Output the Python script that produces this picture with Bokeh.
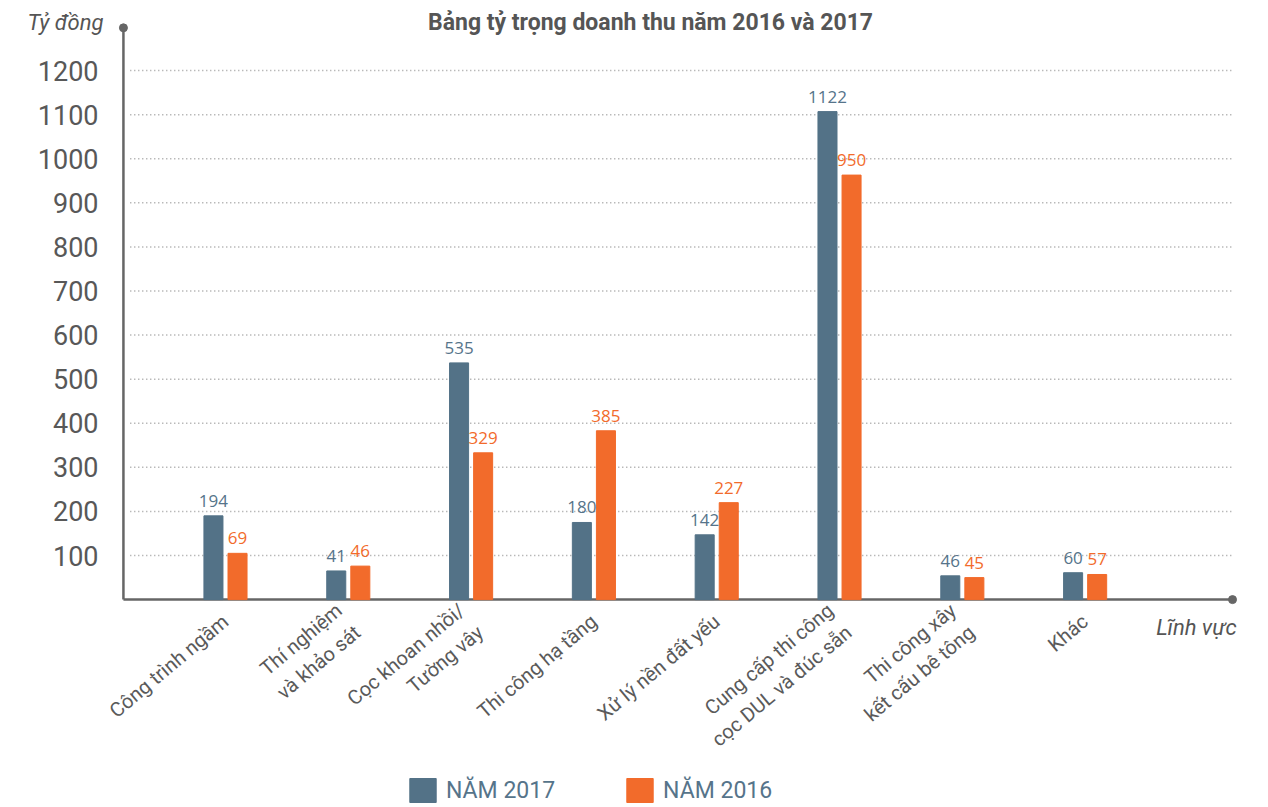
import math
import numpy as np
from bokeh.plotting import figure
from bokeh.models import Range1d, FixedTicker, Label, Legend, LegendItem
from bokeh.core.properties import value
from bokeh.embed import file_html
from bokeh.resources import INLINE

# ---- data ----
categories = [
    "Công trình ngầm",
    "Thí nghiệm\nvà khảo sát",
    "Cọc khoan nhồi/\nTường vây",
    "Thi công hạ tầng",
    "Xử lý nền đất yếu",
    "Cung cấp thi công\ncọc DUL và đúc sẵn",
    "Thi công xây\nkết cấu bê tông",
    "Khác",
]
values_2017 = [190, 65, 537, 175, 147, 1107, 54, 61]
values_2016 = [105, 76, 333, 383, 220, 963, 50, 57]
labels_2017 = ["194", "41", "535", "180", "142", "1122", "46", "60"]
labels_2016 = ["69", "46", "329", "385", "227", "950", "45", "57"]
y_ticks = [100, 200, 300, 400, 500, 600, 700, 800, 900, 1000, 1100, 1200]
series_names = ["NĂM 2017", "NĂM 2016"]

C17 = "#537287"
C16 = "#f26b2b"
GREY = "#555555"
AXIS = "#666666"

x = np.arange(len(categories))
OFF = 0.098
W = 0.155
X_AXIS = -0.831
X_GRID0 = -0.775
X_END = 8.20
Y_TOP = 1297

p = figure(
    width=1260, height=805,
    x_range=Range1d(-1.832, 8.428), y_range=Range1d(-467, 1359),
    output_backend="svg", toolbar_location=None,
    min_border_left=0, min_border_right=0,
    min_border_top=0, min_border_bottom=0,
)
p.outline_line_color = None
p.background_fill_color = "white"
p.border_fill_color = "white"
p.xgrid.grid_line_color = None
p.ygrid.grid_line_color = None

# y axis (labels pulled in next to the drawn axis line)
p.yaxis.ticker = FixedTicker(ticks=y_ticks)
p.yaxis.axis_line_color = None
p.yaxis.major_tick_line_color = None
p.yaxis.minor_tick_line_color = None
p.yaxis.major_label_text_font = "Roboto"
p.yaxis.major_label_text_font_size = "27px"
p.yaxis.major_label_text_color = "#585858"
p.yaxis.major_label_standoff = -104

# x axis (labels pulled up under the drawn axis line)
p.xaxis.ticker = FixedTicker(ticks=list(range(len(categories))))
p.xaxis.major_label_overrides = {i: c for i, c in enumerate(categories)}
p.xaxis.axis_line_color = None
p.xaxis.major_tick_line_color = None
p.xaxis.minor_tick_line_color = None
p.xaxis.major_label_orientation = math.radians(40)
p.xaxis.major_label_text_font = "Roboto"
p.xaxis.major_label_text_font_size = "20px"
p.xaxis.major_label_text_color = "#5a5a5a"
p.xaxis.major_label_standoff = -193

# dotted grid lines
p.segment(x0=X_GRID0, y0=y_ticks, x1=X_END, y1=y_ticks,
          line_color="#9a9a9a", line_dash="1 3", line_width=1.5)

# axis lines with end dots
p.segment(x0=[X_AXIS, X_AXIS], y0=[0, 0], x1=[X_AXIS, X_END], y1=[Y_TOP, 0],
          line_color=AXIS, line_width=2.5)
p.scatter(x=[X_AXIS, X_END], y=[Y_TOP, 0], size=8, color=AXIS)

# bars
r17 = p.vbar(x=x - OFF, top=values_2017, width=W, color=C17)
r16 = p.vbar(x=x + OFF, top=values_2016, width=W, color=C16)

# value labels
p.text(x=x - OFF, y=values_2017, text=labels_2017, text_align="center",
       text_baseline="bottom", y_offset=-9, text_font=value("Open Sans"),
       text_font_size="17px", text_color="#56748a")
p.text(x=x + OFF, y=values_2016, text=labels_2016, text_align="center",
       text_baseline="bottom", y_offset=-9, text_font=value("Open Sans"),
       text_font_size="17px", text_color=C16)

# title & axis names
p.add_layout(Label(x=3.461, y=1308, text="Bảng tỷ trọng doanh thu năm 2016 và 2017",
                   text_align="center", text_baseline="middle", text_font="Roboto",
                   text_font_style="bold", text_font_size="23px", text_color=GREY))
p.add_layout(Label(x=-0.993, y=1308, text="Tỷ đồng", text_align="right",
                   text_baseline="middle", text_font="Roboto", text_font_style="italic",
                   text_font_size="22px", text_color=GREY))
p.add_layout(Label(x=8.233, y=-63, text="Lĩnh vực", text_align="right",
                   text_baseline="middle", text_font="Roboto", text_font_style="italic",
                   text_font_size="22px", text_color=GREY))

# legend
legend = Legend(
    items=[LegendItem(label=series_names[0], renderers=[r17]),
           LegendItem(label=series_names[1], renderers=[r16])],
    orientation="horizontal", location=(406, 0),
    glyph_width=33, glyph_height=30, label_standoff=7, spacing=68,
    padding=0, margin=0, border_line_color=None, background_fill_alpha=0,
    label_text_font="Roboto", label_text_font_size="23px", label_text_color="#56748a",
    label_height=30,
)
p.add_layout(legend, "center")

open("out.html", "w").write(file_html(p, INLINE))
